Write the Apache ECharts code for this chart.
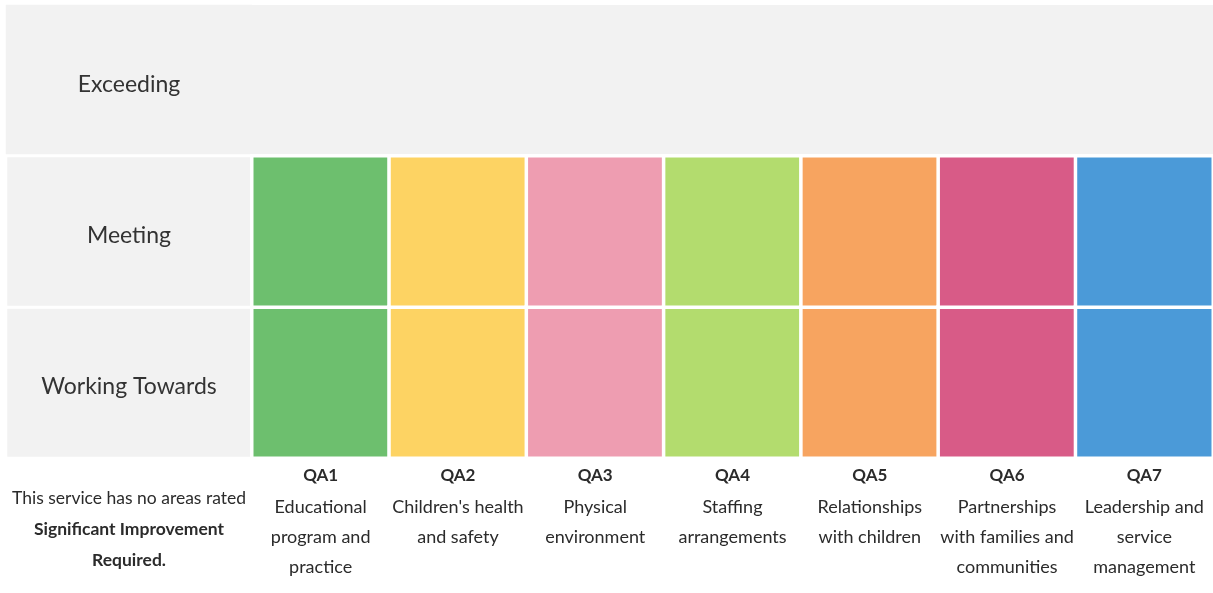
<!DOCTYPE html>
<html>
<head>
<meta charset="utf-8">
<script src="https://cdn.jsdelivr.net/npm/echarts@6/dist/echarts.min.js"></script>
<style>
html,body{margin:0;padding:0;background:#ffffff;}
#chart{width:1213px;height:593px;}
</style>
</head>
<body>
<div id="chart"></div>
<script>
// ---- data ----
var ratingLevels = ["Working Towards", "Meeting", "Exceeding"];
var qaCodes = ["QA1", "QA2", "QA3", "QA4", "QA5", "QA6", "QA7"];
var qaNames = [
  ["Educational", "program and", "practice"],
  ["Children's health", "and safety"],
  ["Physical", "environment"],
  ["Staffing", "arrangements"],
  ["Relationships", "with children"],
  ["Partnerships", "with families and", "communities"],
  ["Leadership and", "service", "management"]
];
// rating index into ratingLevels (1 = Meeting)
var qaRatings = [1, 1, 1, 1, 1, 1, 1];
var qaColors = ["#6dbf6e", "#fdd363", "#ee9db1", "#b3dc6e", "#f7a460", "#d85b87", "#4b9ad8"];
var noteLines = ["This service has no areas rated", "Significant Improvement", "Required."];

// ---- build ----
var FONT = "Lato";
var GREY = '#f2f2f2';
var cells = [];
qaCodes.forEach(function (code, i) {
  for (var j = 0; j <= qaRatings[i]; j++) {
    cells.push({ value: [i, j, j], itemStyle: { color: qaColors[i] } });
  }
});
var topIdx = ratingLevels.length - 1;
var topLabelCells = [[0, topIdx, topIdx]];
var lowerLabelCells = [];
for (var j = 0; j < topIdx; j++) lowerLabelCells.push([0, j, j]);

var levelLabel = {
  show: true, fontFamily: FONT, fontSize: 23, color: '#333333', offset: [0, 4],
  formatter: function (p) { return ratingLevels[p.value[1]]; }
};

var chart = echarts.init(document.getElementById('chart'), null, { renderer: 'canvas' });
chart.setOption({
  backgroundColor: '#ffffff',
  animation: false,
  grid: [
    { left: 6, width: 246, top: 5, height: 453, containLabel: false },
    { left: 252, width: 966, top: 5, height: 453, show: true, backgroundColor: GREY, borderWidth: 0, containLabel: false }
  ],
  xAxis: [
    {
      type: 'category', gridIndex: 0, data: ['note'],
      axisLine: { show: false }, axisTick: { show: false }, splitLine: { show: false },
      axisLabel: {
        margin: 25, interval: 0,
        formatter: function () {
          return '{n|' + noteLines[0] + '}\n{b|' + noteLines[1] + '}\n{b|' + noteLines[2] + '}';
        },
        rich: {
          n: { fontFamily: FONT, fontSize: 17.5, color: '#2b2b2b', lineHeight: 31 },
          b: { fontFamily: FONT, fontSize: 17.5, fontWeight: 'bold', color: '#2b2b2b', lineHeight: 31 }
        }
      }
    },
    {
      type: 'category', gridIndex: 1, data: qaCodes,
      axisLine: { show: false }, axisTick: { show: false }, splitLine: { show: false },
      axisLabel: {
        margin: 1, interval: 0,
        formatter: function (v, idx) {
          var s = '{b|' + v + '}';
          qaNames[idx].forEach(function (l) { s += '\n{n|' + l + '}'; });
          return s;
        },
        rich: {
          b: { fontFamily: FONT, fontSize: 17, fontWeight: 'bold', color: '#2b2b2b', lineHeight: 33 },
          n: { fontFamily: FONT, fontSize: 18, color: '#2b2b2b', lineHeight: 30 }
        }
      }
    }
  ],
  yAxis: [
    { type: 'category', gridIndex: 0, data: ratingLevels, show: false },
    { type: 'category', gridIndex: 1, data: ratingLevels, show: false }
  ],
  series: [
    {
      type: 'heatmap', xAxisIndex: 0, yAxisIndex: 0, data: topLabelCells,
      itemStyle: { color: GREY, borderWidth: 0 },
      label: levelLabel,
      emphasis: { disabled: true }
    },
    {
      type: 'heatmap', xAxisIndex: 0, yAxisIndex: 0, data: lowerLabelCells,
      itemStyle: { color: GREY, borderColor: '#ffffff', borderWidth: 3 },
      label: levelLabel,
      emphasis: { disabled: true }
    },
    {
      type: 'heatmap', xAxisIndex: 1, yAxisIndex: 1, data: cells,
      itemStyle: { borderColor: '#ffffff', borderWidth: 3.5 },
      label: { show: false },
      emphasis: { disabled: true }
    }
  ]
});
</script>
</body>
</html>
